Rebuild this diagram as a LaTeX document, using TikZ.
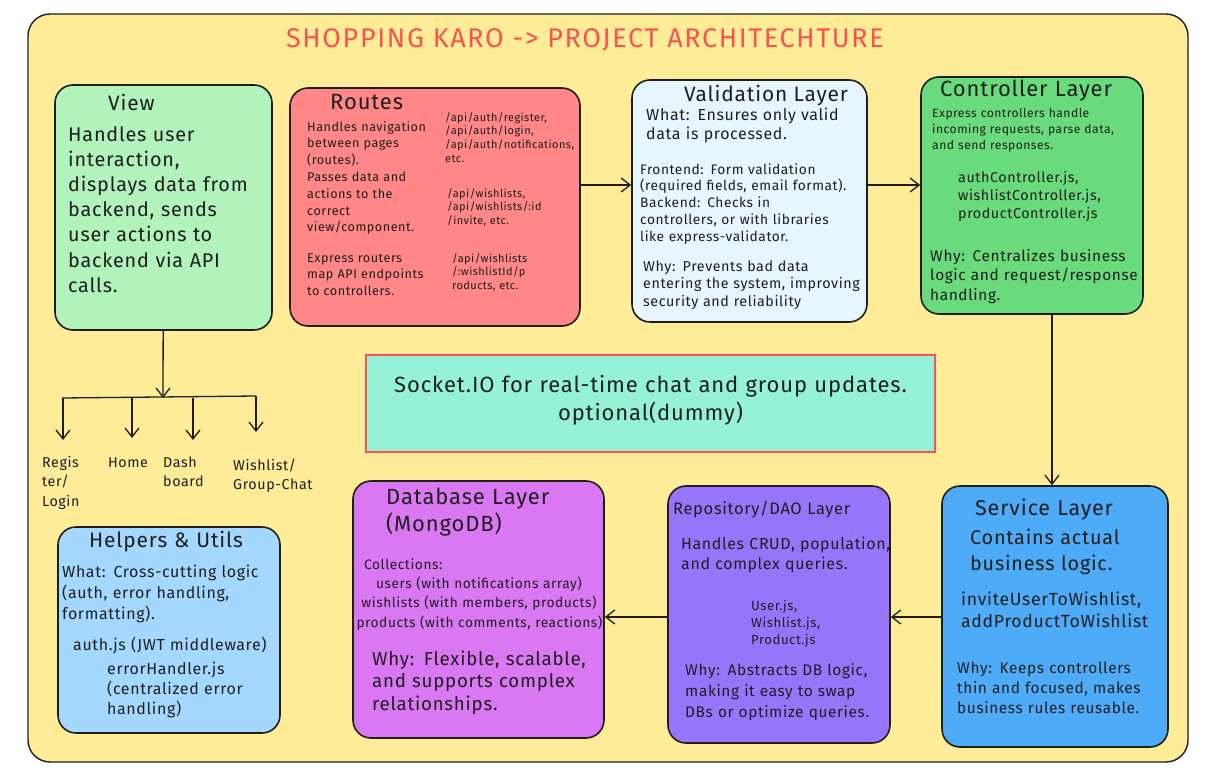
\documentclass[tikz,border=0pt]{standalone}
\usepackage{fontspec}
\setmainfont{Fira Sans}[LetterSpace=4]
\usetikzlibrary{arrows.meta, positioning}
\definecolor{paper}{HTML}{FFEC99}
\definecolor{viewgreen}{HTML}{B2F2BB}
\definecolor{routered}{HTML}{FF8787}
\definecolor{validblue}{HTML}{E7F5FF}
\definecolor{ctrlgreen}{HTML}{69DB7C}
\definecolor{sockteal}{HTML}{96F2D7}
\definecolor{helpblue}{HTML}{A5D8FF}
\definecolor{dbgrape}{HTML}{DA77F2}
\definecolor{repoviolet}{HTML}{9775FA}
\definecolor{servblue}{HTML}{4DABF7}
\definecolor{titlered}{HTML}{FA5252}
\definecolor{ink}{HTML}{1E1E1E}
\newcommand{\fsz}[2]{\fontsize{\the\dimexpr #1pt*110/100\relax}{#2pt}\selectfont}
\tikzstyle{frame} = [draw=ink, fill=paper, line width=1.4pt, rounded corners=22pt, rectangle, inner sep=0pt]
\tikzstyle{layer} = [draw=ink, line width=1.6pt, rounded corners=18pt, rectangle, inner sep=0pt]
\tikzstyle{txt} = [anchor=base west, align=left, text width=300pt, inner sep=0pt, text=ink]
\tikzstyle{ctxt} = [anchor=base, align=center, inner sep=0pt, text=ink]
\tikzstyle{flow} = [draw=ink, line width=1.3pt, -{Straight Barb[length=9pt,width=14pt]}]

\begin{document}
\begin{tikzpicture}[x=1pt, y=-1pt]
	\useasboundingbox (0,0) rectangle (1208,771);
	\node [frame, minimum width=1160, minimum height=748] (frame) at (608,388) {};
	\node [anchor=base, text=titlered, font=\fontsize{27}{32}\selectfont\addfontfeatures{LetterSpace=6}] (title) at (585,47) {SHOPPING KARO -> PROJECT ARCHITECHTURE};
	% top row
	\node [layer, fill=viewgreen, minimum width=217, minimum height=245] (view) at (163.5,207.5) {};
	\node [txt, font=\fsz{19}{24}] (viewhead) at (108,110) {View};
	\node [txt, font=\fsz{18}{25.2}] (viewbody) at (68,141) {Handles user\\interaction,\\displays data from\\backend, sends\\user actions to\\backend via API\\calls.};
	\node [layer, fill=routered, minimum width=290, minimum height=238] (routes) at (435,207) {};
	\node [txt, font=\fsz{20}{24}] (routeshead) at (330,109) {Routes};
	\node [txt, font=\fsz{11.5}{16.8}] (routesbody) at (307,131) {Handles navigation\\between pages\\(routes).\\Passes data and\\actions to the\\correct\\view/component.};
	\node [txt, font=\fsz{11.5}{16.8}] (routesexp) at (307,262) {Express routers\\map API endpoints\\to controllers.};
	\node [txt, font=\fsz{10}{13.7}] (authpaths) at (445,121) {/api/auth/register,\\/api/auth/login,\\/api/auth/notifications,\\etc.};
	\node [txt, font=\fsz{10}{13.7}] (wishpaths) at (447,197) {/api/wishlists,\\/api/wishlists/:id\\/invite, etc.};
	\node [txt, font=\fsz{10}{13.7}] (prodpaths) at (452,262) {/api/wishlists\\/:wishlistId/p\\roducts, etc.};
	\node [layer, fill=validblue, minimum width=235, minimum height=242] (validation) at (749.5,201) {};
	\node [ctxt, font=\fsz{19}{24}] (validhead) at (766,101) {Validation Layer};
	\node [txt, font=\fsz{14.5}{19}] (validwhat) at (646,120) {What: Ensures only valid\\data is processed.};
	\node [txt, font=\fsz{12.5}{16.8}] (validhow) at (640,174) {Frontend: Form validation\\(required fields, email format).\\Backend: Checks in\\controllers, or with libraries\\like express-validator.};
	\node [txt, font=\fsz{13}{17.5}] (validwhy) at (643,271) {Why: Prevents bad data\\entering the system, improving\\security and reliability};
	\node [layer, fill=ctrlgreen, minimum width=222, minimum height=237] (controller) at (1032,195.5) {};
	\node [txt, font=\fsz{20}{24}] (ctrlhead) at (940,96) {Controller Layer};
	\node [txt, font=\fsz{11}{16}] (ctrlbody) at (932,117) {Express controllers handle\\incoming requests, parse data,\\and send responses.};
	\node [txt, font=\fsz{13}{18}] (ctrlfiles) at (958,182) {authController.js,\\wishlistController.js,\\productController.js};
	\node [txt, font=\fsz{14}{19.5}] (ctrlwhy) at (930,261) {Why: Centralizes business\\logic and request/response\\handling.};
	% socket note
	\node [draw=titlered, line width=1.2pt, fill=sockteal, minimum width=569, minimum height=97, inner sep=0pt] (socket) at (650.5,403.5) {};
	\node [ctxt, text width=560pt, font=\fsz{20}{28}] (sockettext) at (650.5,392) {Socket.IO for real-time chat and group updates.\\optional(dummy)};
	% pages under the view
	\coordinate (hub) at (163,398);
	\coordinate (barleft) at (62,398);
	\coordinate (barright) at (256,396);
	\coordinate (toregister) at (63,440);
	\coordinate (tohome) at (132,438);
	\coordinate (todash) at (193,440);
	\coordinate (towish) at (256,432);
	\draw [flow] (view) -- (hub);
	\draw [ink, line width=1.3pt] (barleft) -- (barright);
	\draw [flow] (barleft -| toregister) -- (toregister);
	\draw [flow] (barleft -| tohome) -- (tohome);
	\draw [flow] (barleft -| todash) -- (todash);
	\draw [flow] (barright) -- (towish);
	\node [txt, font=\fsz{13}{19.5}] (register) at (42,467) {Regis\\ter/\\Login};
	\node [txt, font=\fsz{13}{19.5}] (home) at (108,467) {Home};
	\node [txt, font=\fsz{13}{19.5}] (dash) at (163,467) {Dash\\board};
	\node [txt, font=\fsz{13}{19.5}] (wish) at (233,470) {Wishlist/\\Group-Chat};
	% bottom row
	\node [layer, fill=helpblue, minimum width=222, minimum height=206] (helpers) at (169,630) {};
	\node [txt, font=\fsz{19}{24}] (helphead) at (89,547) {Helpers \& Utils};
	\node [txt, font=\fsz{14.5}{21}] (helpwhat) at (62,577) {What: Cross-cutting logic\\(auth, error handling,\\formatting).};
	\node [txt, font=\fsz{14.5}{20}] (helpauth) at (73,650) {auth.js (JWT middleware)};
	\node [txt, font=\fsz{14.5}{20}] (helperr) at (107,674) {errorHandler.js\\(centralized error\\handling)};
	\node [layer, fill=dbgrape, minimum width=251, minimum height=257] (database) at (478.5,609.5) {};
	\node [txt, font=\fsz{20}{27}] (dbhead) at (386,504) {Database Layer\\(MongoDB)};
	\node [txt, font=\fsz{12.5}{19}] (dbcoll) at (364,569) {Collections:};
	\node [ctxt, text width=245pt, font=\fsz{12.5}{19.5}] (dblist) at (479,588) {users (with notifications array)\\wishlists (with members, products)\\products (with comments, reactions)};
	\node [txt, font=\fsz{17}{22.5}] (dbwhy) at (372,665) {Why: Flexible, scalable,\\and supports complex\\relationships.};
	\node [layer, fill=repoviolet, minimum width=222, minimum height=257] (repository) at (779,614.5) {};
	\node [txt, font=\fsz{15}{20}] (repohead) at (673,514) {Repository/DAO Layer};
	\node [txt, font=\fsz{14.5}{20}] (repobody) at (681,549) {Handles CRUD, population,\\and complex queries.};
	\node [txt, font=\fsz{12}{17}] (repofiles) at (751,610) {User.js,\\Wishlist.js,\\Product.js};
	\node [txt, font=\fsz{14}{21}] (repowhy) at (685,675) {Why: Abstracts DB logic,\\making it easy to swap\\DBs or optimize queries.};
	\node [layer, fill=servblue, minimum width=226, minimum height=261] (service) at (1055,616.5) {};
	\node [txt, font=\fsz{19.5}{24}] (servhead) at (975,515) {Service Layer};
	\node [txt, font=\fsz{18}{26}] (servbody) at (970,544) {Contains actual\\business logic.};
	\node [txt, font=\fsz{16}{22}] (servfuncs) at (961,605) {inviteUserToWishlist,\\addProductToWishlist};
	\node [txt, font=\fsz{14}{20}] (servwhy) at (957,673) {Why: Keeps controllers\\thin and focused, makes\\business rules reusable.};
	% request flow
	\draw [flow] (routes.east |- 0,185) -- (validation.west |- 0,185);
	\draw [flow] (validation.east |- 0,185) -- (controller.west |- 0,185);
	\draw [flow] (controller.south -| 1052,0) -- (service.north -| 1052,0);
	\draw [flow] (service.west |- 0,617) -- (repository.east |- 0,617);
	\draw [flow] (repository.west |- 0,617) -- (database.east |- 0,617);
\end{tikzpicture}
\end{document}
